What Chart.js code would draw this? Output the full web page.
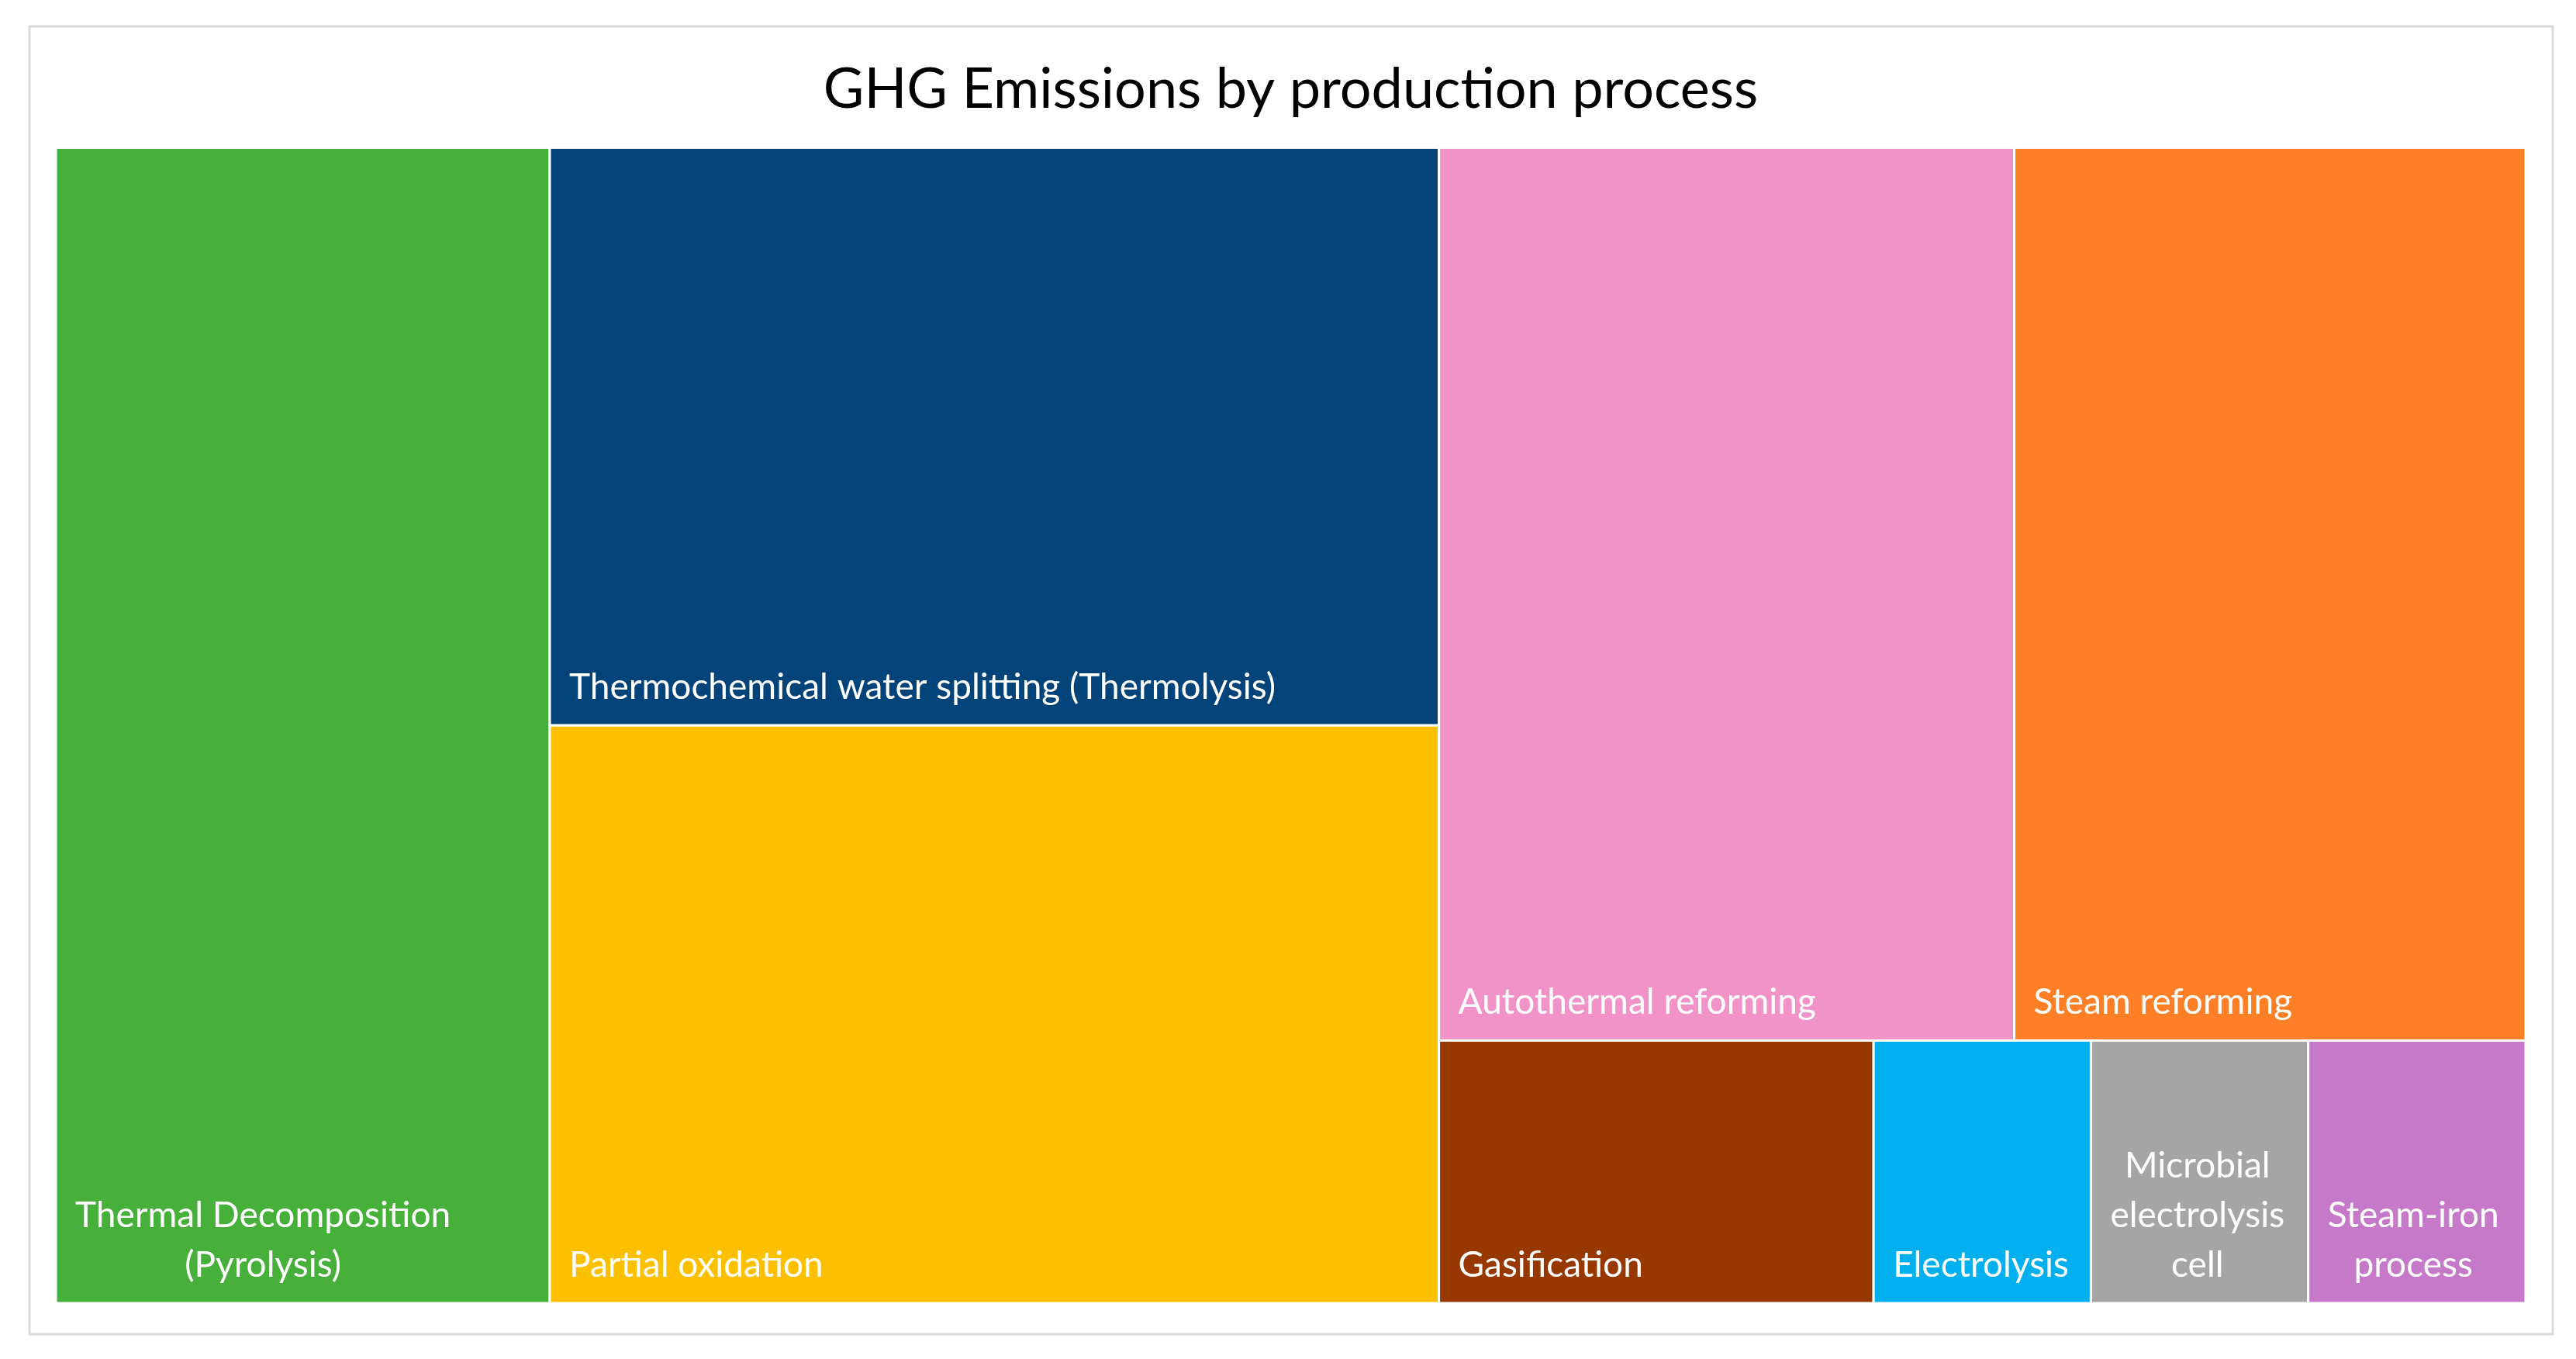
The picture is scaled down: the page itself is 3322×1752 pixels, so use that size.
<!DOCTYPE html>
<html>
<head>
<meta charset="utf-8">
<script src="https://cdn.jsdelivr.net/npm/chart.js@4"></script>
<style>
  body { margin: 0; background: #fff; }
  #wrap { width: 3322px; height: 1752px; }
</style>
</head>
<body>
<div id="wrap"><canvas id="ghgChart"></canvas></div>
<script>
// Treemap data (areas, total 50)
const labels = [
    ['Thermal Decomposition', '(Pyrolysis)'],
    ['Thermochemical water splitting (Thermolysis)'],
    ['Partial oxidation'],
    ['Autothermal reforming'],
    ['Steam reforming'],
    ['Gasification'],
    ['Electrolysis'],
    ['Microbial', 'electrolysis', 'cell'],
    ['Steam-iron', 'process']
];
const values = [10, 9, 9, 9, 8, 2, 1, 1, 1];
const colors = ['#46b03b', '#02437a', '#fdc000', '#f193c9', '#fe7f26', '#973800', '#02b0f0', '#a5a5a5', '#c579c8'];
// which column / row of the slice layout each tile sits in
const columns = [0, 1, 1, 2, 2, 2, 2, 2, 2];
const rows = [0, 0, 1, 0, 0, 1, 1, 1, 1];

const total = values.reduce((a, b) => a + b, 0);

// Build tiles in data units: x from 0..total, y from 0..1 (top = 0)
function buildTiles() {
    const tiles = [];
    let x0 = 0;
    const colIds = [...new Set(columns)];
    colIds.forEach(c => {
        const idx = values.map((v, i) => i).filter(i => columns[i] === c);
        const colSum = idx.reduce((s, i) => s + values[i], 0);
        let y0 = 0;
        [...new Set(idx.map(i => rows[i]))].forEach(r => {
            const rIdx = idx.filter(i => rows[i] === r);
            const rowSum = rIdx.reduce((s, i) => s + values[i], 0);
            const h = rowSum / colSum;
            let xx = x0;
            rIdx.forEach(i => {
                const w = colSum * values[i] / rowSum;
                tiles.push({ i, x: xx, y: y0, w, h });
                xx += w;
            });
            y0 += h;
        });
        x0 += colSum;
    });
    return tiles;
}
const tiles = buildTiles();

const treemapPlugin = {
    id: 'treemap',
    beforeDraw(chart) {
        const ctx = chart.ctx;
        ctx.save();
        ctx.strokeStyle = '#d9d9d9';
        ctx.lineWidth = 3;
        ctx.strokeRect(38, 34, 3254, 1686);
        ctx.restore();
    },
    afterDatasetsDraw(chart) {
        const { ctx, scales: { x, y } } = chart;
        ctx.save();
        tiles.forEach(t => {
            const left = x.getPixelForValue(t.x);
            const right = x.getPixelForValue(t.x + t.w);
            const top = y.getPixelForValue(t.y);
            const bottom = y.getPixelForValue(t.y + t.h);
            ctx.fillStyle = colors[t.i];
            ctx.fillRect(left, top, right - left, bottom - top);
            ctx.strokeStyle = '#ffffff';
            ctx.lineWidth = 3;
            ctx.strokeRect(left, top, right - left, bottom - top);

            // label: bottom-left, multi-line centred within its block
            const lines = labels[t.i];
            ctx.font = '46px Lato';
            ctx.fillStyle = '#ffffff';
            ctx.textBaseline = 'alphabetic';
            const lh = 64;
            const widest = Math.max(...lines.map(l => ctx.measureText(l).width));
            const cx = left + 25 + widest / 2;
            ctx.textAlign = 'center';
            lines.forEach((l, k) => {
                const yy = bottom - 34 - (lines.length - 1 - k) * lh;
                ctx.fillText(l, lines.length > 1 ? cx : left + 25 + ctx.measureText(l).width / 2, yy);
            });
        });
        ctx.restore();
    }
};

new Chart(document.getElementById('ghgChart').getContext('2d'), {
    type: 'scatter',
    data: { datasets: [{ data: [] }] },
    options: {
        responsive: true,
        maintainAspectRatio: false,
        animation: false,
        devicePixelRatio: 1,
        layout: { padding: { left: 72, right: 65, top: 0, bottom: 72 } },
        scales: {
            x: { type: 'linear', min: 0, max: total, display: false },
            y: { type: 'linear', min: 0, max: 1, reverse: true, display: false }
        },
        plugins: {
            legend: { display: false },
            tooltip: { enabled: false },
            title: {
                display: true,
                text: 'GHG Emissions by production process',
                color: '#000000',
                font: { family: 'Lato', size: 72, weight: 'normal' },
                padding: { top: 73, bottom: 31 }
            }
        }
    },
    plugins: [treemapPlugin]
});
</script>
</body>
</html>
